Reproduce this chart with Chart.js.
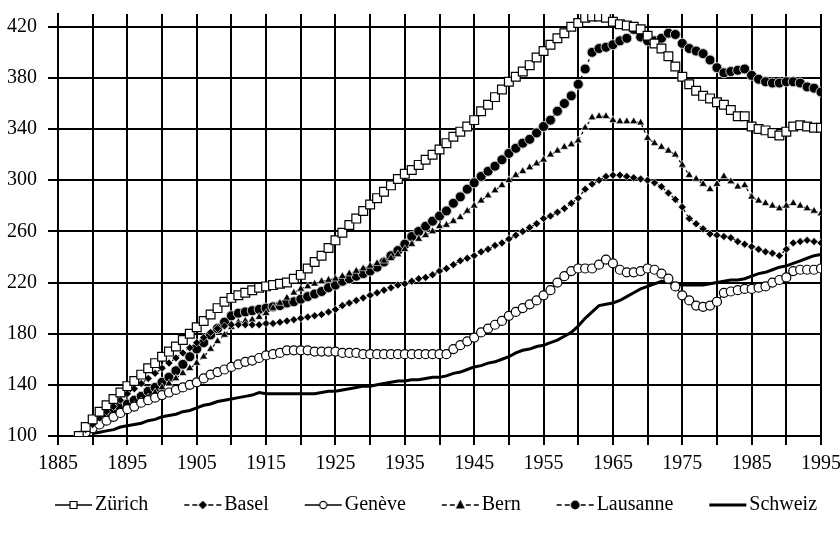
<!DOCTYPE html>
<html>
<head>
<meta charset="utf-8">
<title>Index</title>
<script src="https://cdn.jsdelivr.net/npm/chart.js@4.4.0/dist/chart.umd.min.js"></script>
<style>
    body { margin: 0; background: #fff; }
    #chart { display: block; }
</style>
</head>
<body>
<canvas id="chart" width="840" height="535"></canvas>
<script>
// Years 1888 - 1995, one value per year (index 1888 = 100)
var years = [];
for (var yr = 1888; yr <= 1995; yr++) years.push(yr);

var zurich = [
    100, 107, 113, 119, 124, 129, 134, 139, 143, 148,   // 1888
    153, 157, 162, 166, 170, 175, 180, 185, 190, 195,   // 1898
    200, 205, 208, 210, 212, 214, 216, 217, 218, 219,   // 1908
    220, 223, 226, 231, 236, 241, 247, 253, 259, 265,   // 1918
    270, 276, 281, 286, 291, 296, 301, 305, 308, 312,   // 1928
    316, 320, 324, 329, 334, 338, 342, 347, 354, 359,   // 1938
    365, 371, 377, 381, 385, 390, 396, 401, 406, 411,   // 1948
    415, 420, 423, 427, 428, 428, 427, 424, 422, 421,   // 1958
    420, 418, 413, 407, 403, 397, 389, 381, 375, 370,   // 1968
    366, 364, 361, 359, 355, 350, 350, 342, 340, 339,   // 1978
    337, 335, 338, 342, 343, 342, 341, 341              // 1988
];
var basel = [
    100, 105, 109, 114, 119, 123, 128, 133, 137, 141,
    145, 149, 153, 157, 161, 165, 169, 173, 177, 181,
    184, 186, 187, 187, 187, 187, 187, 188, 188, 189,
    190, 191, 192, 193, 194, 195, 197, 199, 202, 204,
    206, 208, 210, 212, 214, 216, 218, 219, 221, 223,
    224, 226, 229, 231, 234, 237, 239, 241, 244, 246,
    249, 251, 254, 257, 260, 263, 266, 270, 272, 275,
    278, 282, 286, 293, 297, 300, 303, 304, 304, 303,
    302, 301, 300, 298, 295, 290, 285, 279, 270, 266,
    262, 258, 257, 256, 255, 252, 250, 248, 246, 244,
    243, 241, 246, 251, 252, 253, 252, 251
];
var geneve = [
    100, 103, 106, 109, 112, 115, 118, 121, 123, 126,
    128, 130, 132, 134, 136, 138, 140, 142, 145, 148,
    150, 152, 154, 156, 158, 159, 161, 163, 164, 165,
    167, 167, 167, 167, 166, 166, 166, 166, 165, 165,
    165, 164, 164, 164, 164, 164, 164, 164, 164, 164,
    164, 164, 164, 164, 168, 171, 174, 177, 181, 184,
    187, 190, 194, 197, 200, 203, 206, 210, 214, 220,
    225, 229, 231, 231, 231, 234, 238, 235, 230, 228,
    228, 229, 231, 230, 227, 223, 217, 210, 206, 202,
    201, 202, 205, 212, 213, 214, 215, 215, 216, 217,
    220, 222, 224, 229, 230, 230, 230, 231
];
var bern = [
    100, 103, 106, 109, 112, 115, 118, 121, 124, 127,
    130, 134, 138, 141, 145, 149, 153, 157, 162, 168,
    174, 179, 185, 189, 190, 191, 193, 196, 200, 204,
    208, 212, 215, 217, 219, 221, 222, 223, 225, 227,
    229, 231, 233, 235, 237, 239, 242, 246, 250, 254,
    257, 260, 264, 265, 268, 271, 276, 280, 284, 288,
    292, 296, 300, 304, 307, 310, 313, 316, 320, 323,
    326, 328, 331, 341, 349, 350, 350, 347, 346, 346,
    346, 345, 333, 329, 326, 323, 320, 312, 304, 301,
    297, 293, 297, 303, 299, 295, 296, 287, 284, 282,
    280, 278, 280, 282, 280, 278, 276, 274
];
var lausanne = [
    100, 104, 108, 112, 115, 118, 122, 125, 128, 131,
    135, 138, 142, 146, 151, 156, 162, 168, 173, 179,
    184, 189, 194, 196, 197, 198, 199, 200, 201, 202,
    204, 205, 207, 209, 211, 213, 216, 218, 221, 223,
    225, 227, 229, 232, 236, 241, 245, 250, 256, 260,
    264, 268, 272, 276, 282, 287, 293, 298, 303, 307,
    311, 316, 321, 325, 329, 332, 337, 342, 347, 354,
    360, 366, 375, 387, 400, 403, 404, 406, 409, 411,
    418, 412, 409, 409, 411, 415, 414, 407, 403, 401,
    399, 394, 388, 384, 385, 386, 387, 382, 379, 377,
    376, 376, 377, 377, 376, 373, 372, 369
];
var schweiz = [
    null, null, 102, 103, 104, 105, 107, 108, 109, 110,
    112, 113, 115, 116, 117, 119, 120, 122, 124, 125,
    127, 128, 129, 130, 131, 132, 134, 133, 133, 133,
    133, 133, 133, 133, 133, 134, 135, 135, 136, 137,
    138, 139, 139, 140, 141, 142, 143, 143, 144, 144,
    145, 146, 146, 147, 149, 150, 152, 154, 155, 157,
    158, 160, 162, 165, 167, 168, 170, 171, 173, 175,
    178, 181, 186, 192, 197, 202, 203, 204, 206, 209,
    212, 215, 217, 219, 221, 220, 219, 218, 218, 218,
    218, 219, 220, 221, 222, 222, 223, 225, 227, 228,
    230, 232, 233, 235, 237, 239, 241, 242
];

var yTicks = [100, 140, 180, 220, 260, 300, 340, 380, 420];
var xLabelYears = [1885, 1895, 1905, 1915, 1925, 1935, 1945, 1955, 1965, 1975, 1985, 1995];

function points(values) {
    return years.map(function (y, i) {
        return {x: y, y: values[i]};
    });
}

// legend symbol: line with marker, drawn in the right part of a 72px canvas
// so that it ends just before the label text
function legendIcon(shape, dash, lw) {
    var c = document.createElement('canvas');
    c.width = 72;
    c.height = 14;
    var g = c.getContext('2d');
    var cx = 52.5;
    g.strokeStyle = '#000';
    g.lineWidth = lw;
    g.setLineDash(dash);
    g.beginPath();
    g.moveTo(34, 7);
    g.lineTo(71, 7);
    g.stroke();
    g.setLineDash([]);
    g.lineWidth = 1.2;
    g.fillStyle = '#000';
    g.beginPath();
    if (shape === 'square') {
        g.fillStyle = '#fff';
        g.rect(cx - 3.5, 3.5, 7, 7);
    } else if (shape === 'diamond') {
        g.moveTo(cx, 3.5); g.lineTo(cx + 3.5, 7); g.lineTo(cx, 10.5); g.lineTo(cx - 3.5, 7);
        g.closePath();
    } else if (shape === 'ring') {
        g.fillStyle = '#fff';
        g.arc(cx, 7, 3.6, 0, Math.PI * 2);
    } else if (shape === 'triangle') {
        g.moveTo(cx, 3); g.lineTo(cx + 3.5, 10); g.lineTo(cx - 3.5, 10);
        g.closePath();
    } else if (shape === 'dot') {
        g.arc(cx, 7, 3.8, 0, Math.PI * 2);
    }
    if (shape) {
        g.fill();
        g.stroke();
    }
    return c;
}

var icons = [
    legendIcon('square', [], 1.4),
    legendIcon('diamond', [5, 3], 1.4),
    legendIcon('ring', [], 1.4),
    legendIcon('triangle', [5, 3], 1.4),
    legendIcon('dot', [5, 3], 1.4),
    legendIcon(null, [], 3)
];

// nudge the legend row a few pixels right and down
var legendNudge = {
    id: 'legendNudge',
    afterLayout: function (chart) {
        var lg = chart.legend;
        lg.left += 5;
        lg.right += 5;
        lg.top += 2;
        lg.bottom += 2;
    }
};

var font = {family: 'Liberation Serif', size: 20};

var ctx = document.getElementById('chart').getContext('2d');
var chart = new Chart(ctx, {
    type: 'line',
    data: {
        datasets: [{
            label: 'Zürich',
            data: points(zurich),
            borderColor: '#000',
            borderWidth: 1.2,
            pointStyle: 'rect',
            pointRadius: 6.2,
            pointBackgroundColor: '#fff',
            pointBorderColor: '#000',
            pointBorderWidth: 1.2
        }, {
            label: 'Basel',
            data: points(basel),
            borderColor: '#000',
            borderWidth: 1.2,
            borderDash: [3, 3],
            pointStyle: 'rectRot',
            pointRadius: 4,
            pointBackgroundColor: '#000',
            pointBorderColor: '#fff',
            pointBorderWidth: 0.6
        }, {
            label: 'Genève',
            data: points(geneve),
            borderColor: '#000',
            borderWidth: 1.2,
            pointStyle: 'circle',
            pointRadius: 4.5,
            pointBackgroundColor: '#fff',
            pointBorderColor: '#000',
            pointBorderWidth: 1.2
        }, {
            label: 'Bern',
            data: points(bern),
            borderColor: '#000',
            borderWidth: 1.2,
            borderDash: [3, 3],
            pointStyle: 'triangle',
            pointRadius: 4.5,
            pointBackgroundColor: '#000',
            pointBorderColor: '#fff',
            pointBorderWidth: 0.6
        }, {
            label: 'Lausanne',
            data: points(lausanne),
            borderColor: '#000',
            borderWidth: 1.2,
            borderDash: [3, 3],
            pointStyle: 'circle',
            pointRadius: 5,
            pointBackgroundColor: '#000',
            pointBorderColor: '#ccc',
            pointBorderWidth: 1
        }, {
            label: 'Schweiz',
            data: points(schweiz),
            borderColor: '#000',
            borderWidth: 3,
            pointRadius: 0
        }]
    },
    plugins: [legendNudge],
    options: {
        responsive: false,
        animation: false,
        layout: {padding: {left: -4, right: 0, top: 14, bottom: 12}},
        plugins: {
            tooltip: {enabled: false},
            legend: {
                position: 'bottom',
                labels: {
                    usePointStyle: true,
                    pointStyleWidth: 56,
                    boxHeight: 14,
                    padding: 10,
                    color: '#000',
                    font: font,
                    generateLabels: function (chart) {
                        var items = Chart.defaults.plugins.legend.labels.generateLabels(chart);
                        items.forEach(function (item, i) {
                            item.pointStyle = icons[i];
                        });
                        return items;
                    }
                }
            }
        },
        scales: {
            x: {
                type: 'linear',
                min: 1885,
                max: 1995,
                // let the last year label hang over the right edge a little
                afterFit: function (scale) {
                    scale.paddingRight = 19;
                },
                ticks: {
                    stepSize: 5,
                    autoSkip: false,
                    maxRotation: 0,
                    padding: 7,
                    color: '#000',
                    font: font,
                    callback: function (v) {
                        return xLabelYears.indexOf(v) >= 0 ? String(v) : '';
                    }
                },
                grid: {color: '#000', lineWidth: 2, tickLength: 9},
                border: {color: '#000', width: 2}
            },
            y: {
                min: 100,
                max: 430,
                afterBuildTicks: function (scale) {
                    scale.ticks = yTicks.map(function (v) { return {value: v}; });
                },
                afterFit: function (scale) {
                    scale.paddingTop = 0;
                },
                ticks: {
                    padding: 11,
                    color: '#000',
                    font: font,
                    callback: function (v) { return String(v); }
                },
                grid: {color: '#000', lineWidth: 2, tickLength: 10},
                border: {color: '#000', width: 2}
            }
        }
    }
});
</script>
</body>
</html>
